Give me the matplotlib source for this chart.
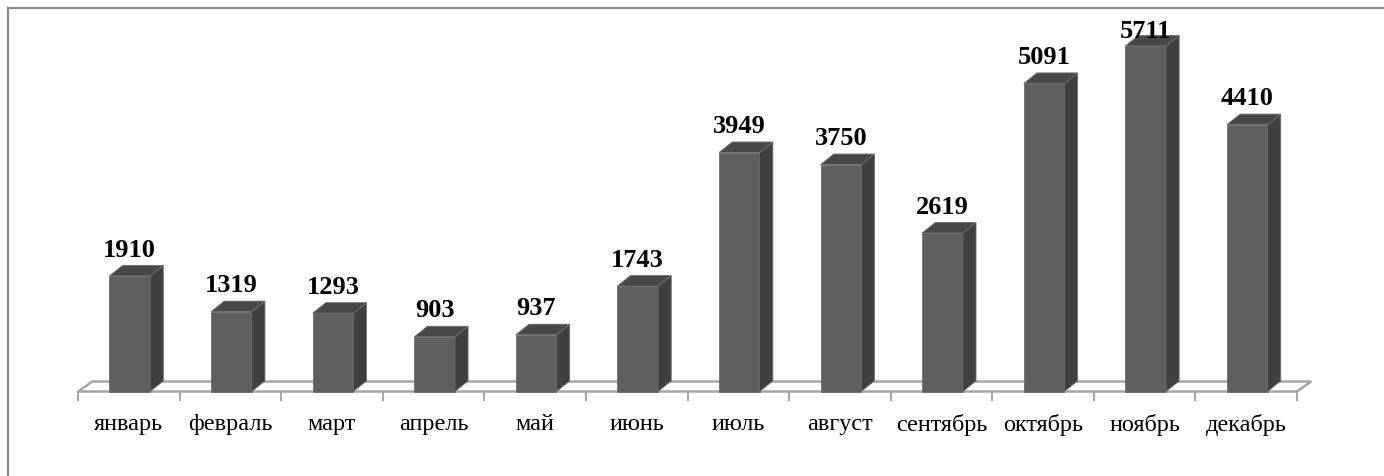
import matplotlib.pyplot as plt
from matplotlib.patches import Polygon
from matplotlib.lines import Line2D

months = ['январь', 'февраль', 'март', 'апрель', 'май', 'июнь',
          'июль', 'август', 'сентябрь', 'октябрь', 'ноябрь', 'декабрь']
values = [1910, 1319, 1293, 903, 937, 1743, 3949, 3750, 2619, 5091, 5711, 4410]

FRONT = '#5f5f5f'
SIDE = '#404040'
TOP = '#484848'
EDGE = '#6e6e6e'
FLOOR_EDGE = '#a6a6a6'

W, H = 1384, 477
fig = plt.figure(figsize=(W / 100, H / 100), dpi=100)

# axes placed so that category 0..12 spans the floor's front edge
ymax = 6000
px_per_unit = 0.0605
ax_h = ymax * px_per_unit
ax = fig.add_axes([78 / W, (H - 392.5) / H, 1219 / W, ax_h / H])
ax.set_xlim(0, len(values))
ax.set_ylim(0, ymax)
ax.axis('off')

# 3d depth offsets in data units
dx = 0.13
dy = 175
fdx = 0.14
fdy = 165
bar_w = 0.4

# floor
n = len(values)
floor = Polygon([(0, 0), (n, 0), (n + fdx, fdy), (fdx, fdy)], closed=True,
                facecolor='white', edgecolor=FLOOR_EDGE, lw=1.8,
                clip_on=False, zorder=1)
ax.add_patch(floor)

# ticks under the floor front edge
for i in range(n + 1):
    ax.plot([i, i], [0, -140], color=FLOOR_EDGE, lw=1.5, clip_on=False, zorder=1)

for i, (m, v) in enumerate(zip(months, values)):
    x0 = i + 0.5 - bar_w / 2 + 0.01
    x1 = x0 + bar_w
    front = Polygon([(x0, 0), (x1, 0), (x1, v), (x0, v)], closed=True,
                    facecolor=FRONT, edgecolor=EDGE, lw=0.6, clip_on=False, zorder=3)
    side = Polygon([(x1, 0), (x1 + dx, dy), (x1 + dx, v + dy), (x1, v)], closed=True,
                   facecolor=SIDE, edgecolor=EDGE, lw=0.6, clip_on=False, zorder=3)
    top = Polygon([(x0, v), (x1, v), (x1 + dx, v + dy), (x0 + dx, v + dy)], closed=True,
                  facecolor=TOP, edgecolor=EDGE, lw=0.6, clip_on=False, zorder=3)
    for p in (front, side, top):
        ax.add_patch(p)

    label_y = min(v + dy + 80, 5780)
    ax.text((x0 + x1) / 2, label_y, str(v), ha='center', va='bottom',
            fontsize=19, fontweight='bold', family='Liberation Serif',
            color='black', zorder=5, clip_on=False)
    ax.text(i + 0.5, -530, m, ha='center', va='center',
            fontsize=17.5, family='Liberation Serif', color='black')

# chart area border (top and left edges)
fig.add_artist(Line2D([8 / W, 8 / W], [0, 1 - 9 / H], color='#8c8c8c', lw=1.6,
                      transform=fig.transFigure))
fig.add_artist(Line2D([8 / W, 1], [1 - 9 / H, 1 - 9 / H], color='#8c8c8c', lw=1.6,
                      transform=fig.transFigure))

fig.savefig('out.png', dpi=100, facecolor='white')
